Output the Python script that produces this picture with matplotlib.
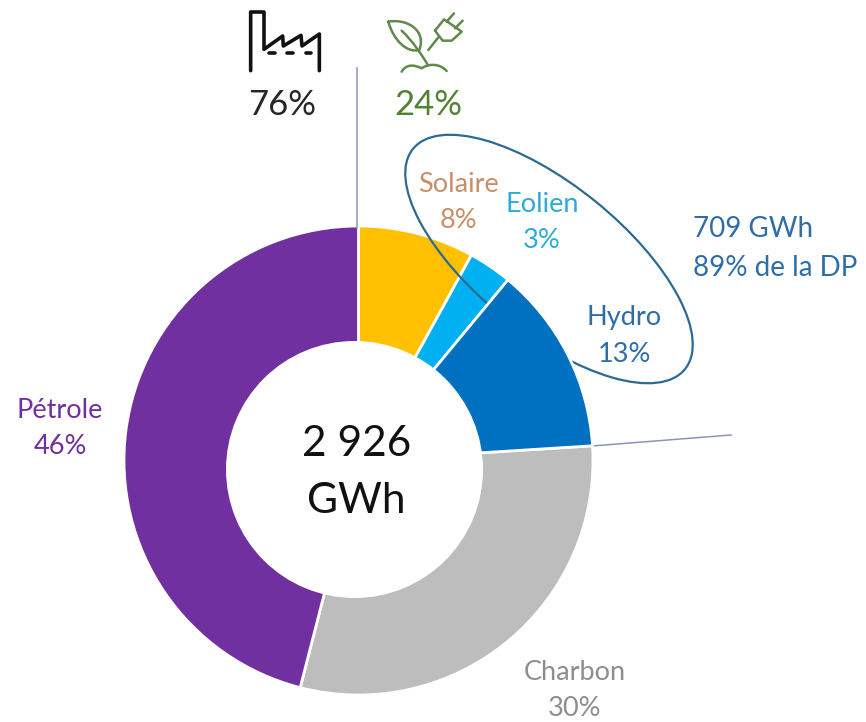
import matplotlib
matplotlib.use("Agg")
import matplotlib.pyplot as plt
from matplotlib.patches import Circle, Ellipse, PathPatch
from matplotlib.path import Path

plt.rcParams['font.family'] = ['Lato', 'DejaVu Sans']

# donut values, clockwise from the top
sources = ["Solaire", "Eolien", "Hydro", "Charbon", "Pétrole"]
shares = [8, 3, 13, 30, 46]
wedge_colors = ["#FFC000", "#00B0F0", "#0070C0", "#BDBDBD", "#7030A0"]
label_colors = ["#C98F69", "#2FA8DC", "#2F6DA8", "#8E8E8E", "#7030A0"]
label_pos = [(458, 202), (542, 223), (624, 336), (575, 691), (60, 429)]

total_text = ["2 926", "GWh"]
fossil_share = "76%"
renewable_share = "24%"
dp_text = ["709 GWh", "89% de la DP"]

W, H = 866, 722
CENTER = (358.5, H - 460.5)
RADIUS = 234.5

fig = plt.figure(figsize=(W / 100, H / 100), dpi=100, facecolor="white")
ax = fig.add_axes([0, 0, 1, 1])

wedges, _ = ax.pie(shares, colors=wedge_colors, startangle=90, counterclock=False,
				   center=CENTER, radius=RADIUS, frame=True,
				   wedgeprops=dict(width=RADIUS - 90, edgecolor="white", linewidth=2.0))
ax.set_xlim(0, W)
ax.set_ylim(0, H)
ax.set_aspect("equal")
ax.axis("off")

# the ring around the renewables passes over solar and wind, under hydro
for w in wedges:
	w.set_zorder(1)
wedges[2].set_zorder(3)
ax.add_patch(Ellipse((549, H - 259), 350, 148, angle=-39, fill=False,
					 edgecolor="#2A6A94", linewidth=1.6, zorder=2))

# the hole sits a little off the centre of the ring
ax.add_patch(Circle((354.5, H - 469.5), 128.5, facecolor="white", edgecolor="none", zorder=3.5))

# separators
ax.plot([357, 357], [H - 68, H - 228], color="#8A96B8", lw=1.1, zorder=1)
ax.plot([592, 731], [H - 446, H - 435], color="#8A96B8", lw=1.1, zorder=1)

# labels
for name, share, col, (x, y) in zip(sources, shares, label_colors, label_pos):
	ax.text(x, H - y, f"{name}\n{share}%", color=col, fontsize=19.5, ha="center",
			va="center", linespacing=1.55, zorder=4)

ax.text(357, H - 444, total_text[0], fontsize=30.5, color="#111111", ha="center", va="center", zorder=4)
ax.text(356, H - 501, total_text[1], fontsize=30.5, color="#111111", ha="center", va="center", zorder=4)
ax.text(282, H - 105, fossil_share, fontsize=25, color="#262626", ha="center", va="center")
ax.text(428, H - 105, renewable_share, fontsize=25, color="#548235", ha="center", va="center")
ax.text(693, H - 229, dp_text[0], fontsize=20, color="#2F6DA8", ha="left", va="center")
ax.text(693, H - 268, dp_text[1], fontsize=20, color="#2F6DA8", ha="left", va="center")


# icons are sketched in the 3x coordinates of the top crop
def to_px(pts):
	return [(220 + x / 3, H - y / 3) for x, y in pts]


def stroke(pts, color, lw, codes=None):
	path = Path(to_px(pts), codes)
	ax.add_patch(PathPatch(path, fill=False, edgecolor=color, linewidth=lw,
						   capstyle="round", joinstyle="round", zorder=4))


BLACK = "#111111"
stroke([(92, 212), (92, 36), (132, 36), (132, 148), (188, 108), (190, 138), (243, 106),
		(246, 138), (298, 102), (298, 212)], BLACK, 2.6)
for x0, x1 in [(148, 164), (202, 218), (257, 273)]:
	stroke([(x0, 158), (x1, 158)], BLACK, 2.6)

GREEN = "#5F8A4C"
C4, M = Path.CURVE4, Path.MOVETO
# leaf
stroke([(505, 65), (560, 55), (620, 90), (598, 150), (560, 160), (520, 120), (505, 65)],
	   GREEN, 1.8, [M, C4, C4, C4, C4, C4, C4])
# stem and soil
stroke([(545, 92), (580, 125), (605, 165), (622, 192)], GREEN, 1.8, [M, C4, C4, C4])
stroke([(545, 215), (560, 190), (585, 195), (605, 205), (625, 190), (660, 190), (680, 213)],
	   GREEN, 1.8, [M, C4, C4, C4, C4, C4, C4])
# plug
stroke([(625, 150), (655, 112)], GREEN, 1.8)
stroke([(645, 92), (672, 58), (725, 95), (695, 122), (668, 122), (645, 92)], GREEN, 1.8)
stroke([(680, 65), (702, 40)], GREEN, 1.8)
stroke([(705, 85), (728, 62)], GREEN, 1.8)

fig.savefig("out.png", dpi=100, facecolor="white")
